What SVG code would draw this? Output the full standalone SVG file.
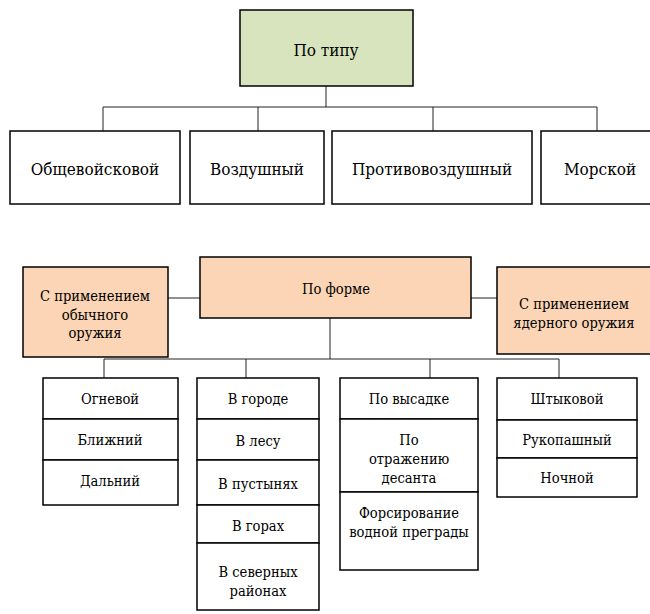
<svg xmlns="http://www.w3.org/2000/svg" width="650" height="614" viewBox="0 0 650 614">
<style>
.b{stroke:#000;stroke-width:1.5;fill:#fff}
.g{fill:#d7e4bd}
.o{fill:#fbd5b5}
.t{font-family:"DejaVu Serif Condensed","DejaVu Serif",serif;font-stretch:condensed;fill:#000;text-anchor:middle;dominant-baseline:central}
.l{font-size:17px}
.s{font-size:14.6px}
.c{stroke:#222;stroke-width:1;fill:none}
</style>
<rect width="650" height="614" fill="#fff"/>
<g id="connectors">
<path class="c" d="M326 86V107M103 107H597M103 107V131M258 107V131M433 107V131M597 107V131"/>
<path class="c" d="M168 298H200M471 298H497M330 318V359M104 359H559M104 359V378M246 359V378M430 359V378M559 359V378"/>
</g>
<g id="po_tipu"><rect class="b g" x="240" y="10" width="173" height="76"/><text class="t l" x="326" y="50">По типу</text></g>
<g id="obshchevoyskovoy"><rect class="b" x="10" y="131" width="170" height="73"/><text class="t l" x="95" y="169">Общевойсковой</text></g>
<g id="vozdushny"><rect class="b" x="190" y="131" width="134" height="73"/><text class="t l" x="257" y="169">Воздушный</text></g>
<g id="protivovozdushny"><rect class="b" x="332" y="131" width="200" height="73"/><text class="t l" x="432" y="169">Противовоздушный</text></g>
<g id="morskoy"><rect class="b" x="541" y="131" width="118" height="73"/><text class="t l" x="600" y="169">Морской</text></g>
<g id="po_forme"><rect class="b o" x="200" y="257" width="271" height="61"/><text class="t s" x="336" y="288">По форме</text></g>
<g id="obychnoe"><rect class="b o" x="23" y="267" width="145" height="90"/><text class="t s" x="95" y="295">С применением</text><text class="t s" x="95" y="314">обычного</text><text class="t s" x="95" y="332">оружия</text></g>
<g id="yadernoe"><rect class="b o" x="497" y="267" width="156" height="87"/><text class="t s" x="574" y="303">С применением</text><text class="t s" x="574" y="322">ядерного оружия</text></g>
<g id="col1">
<rect class="b" x="43" y="378" width="135" height="41"/><text class="t s" x="110" y="398">Огневой</text>
<rect class="b" x="43" y="419" width="135" height="41"/><text class="t s" x="110" y="439">Ближний</text>
<rect class="b" x="43" y="460" width="135" height="45"/><text class="t s" x="110" y="480">Дальний</text>
</g>
<g id="col2">
<rect class="b" x="197" y="378" width="122" height="41"/><text class="t s" x="258" y="398">В городе</text>
<rect class="b" x="197" y="419" width="122" height="41"/><text class="t s" x="258" y="440">В лесу</text>
<rect class="b" x="197" y="460" width="122" height="45"/><text class="t s" x="258" y="483">В пустынях</text>
<rect class="b" x="197" y="505" width="122" height="38"/><text class="t s" x="258" y="525">В горах</text>
<rect class="b" x="197" y="543" width="122" height="67"/><text class="t s" x="258" y="571">В северных</text><text class="t s" x="258" y="590">районах</text>
</g>
<g id="col3">
<rect class="b" x="340" y="378" width="138" height="41"/><text class="t s" x="409" y="398">По высадке</text>
<rect class="b" x="340" y="419" width="138" height="73"/><text class="t s" x="409" y="439">По</text><text class="t s" x="409" y="458">отражению</text><text class="t s" x="409" y="477">десанта</text>
<rect class="b" x="340" y="492" width="138" height="78"/><text class="t s" x="409" y="512">Форсирование</text><text class="t s" x="409" y="531">водной преграды</text>
</g>
<g id="col4">
<rect class="b" x="497" y="378" width="140" height="42"/><text class="t s" x="567" y="398">Штыковой</text>
<rect class="b" x="497" y="420" width="140" height="38"/><text class="t s" x="567" y="439">Рукопашный</text>
<rect class="b" x="497" y="458" width="140" height="39"/><text class="t s" x="567" y="477">Ночной</text>
</g>
</svg>
